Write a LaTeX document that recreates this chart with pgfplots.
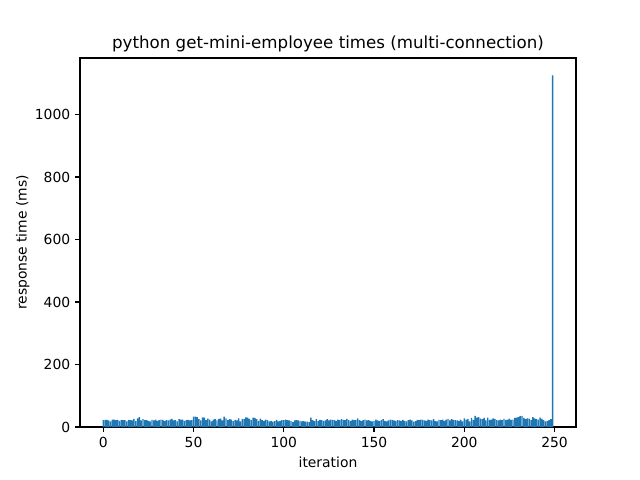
\documentclass[border=0pt]{standalone}
\usepackage{pgfplots}
\pgfplotsset{compat=1.18}
\usepackage{pgfplotstable}
\usepackage{fontspec}
\setmainfont{DejaVu Sans}
\definecolor{mplblue}{HTML}{1F77B4}
\pgfplotstableread{
t
22
23
23
21
18
24
24
22
23
20
23
22
22
18
23
22
21
26
19
28
32
21
25
22
22
20
18
23
21
24
20
22
24
23
19
22
21
24
26
21
22
18
25
24
24
20
22
23
21
22
33
33
32
25
21
31
30
22
27
24
18
24
25
21
26
27
21
33
28
22
25
24
19
23
21
28
18
26
25
31
30
26
22
30
29
25
20
27
22
20
24
22
18
20
17
19
23
18
20
22
22
24
22
21
20
16
21
22
21
20
18
19
17
17
16
30
22
19
25
20
23
22
20
21
25
21
24
23
22
20
24
22
25
23
22
26
22
20
24
22
23
28
22
19
22
24
21
22
20
18
19
24
21
19
22
25
20
18
21
24
23
21
20
22
21
20
23
20
18
22
24
21
17
19
23
22
24
23
21
20
24
22
21
25
19
18
23
22
24
20
24
26
21
25
23
22
21
20
24
18
28
24
25
18
29
23
36
30
32
27
25
29
21
30
23
24
28
25
22
21
24
22
26
22
24
27
23
24
29
30
32
35
36
29
25
28
27
22
32
28
25
24
30
26
22
18
20
22
25
1125
}\times
\begin{document}
\begin{tikzpicture}
\path (0,0) rectangle (460.8pt,345.6pt);
\begin{axis}[
  at={(57.6pt,38.16pt)}, anchor=south west,
  scale only axis, width=357.1pt, height=265.7pt,
  xmin=-12.89, xmax=261.89, ymin=0, ymax=1181,
  xtick={0,50,100,150,200,250},
  ytick={0,200,400,600,800,1000},
  tick align=outside, tick pos=left,
  major tick length=3.5pt,
  every tick/.style={black, line width=0.8pt},
  axis line style={line width=0.8pt},
  /pgf/number format/assume math mode=true,
  ticklabel style={font=\fontsize{10}{12}\selectfont},
  label style={font=\fontsize{10}{12}\selectfont},
  ylabel style={yshift=-3pt},
  title style={font=\fontsize{12}{14}\selectfont, yshift=-5.5pt},
  title={python get-mini-employee times (multi-connection)},
  xlabel={iteration}, ylabel={response time (ms)},
  scaled y ticks=false,
  yticklabel style={/pgf/number format/.cd, 1000 sep={}},
]
\addplot[ybar, bar width=0.8, fill=mplblue, draw=none] table[x expr=\coordindex, y=t] {\times};
\end{axis}
\end{tikzpicture}
\end{document}
